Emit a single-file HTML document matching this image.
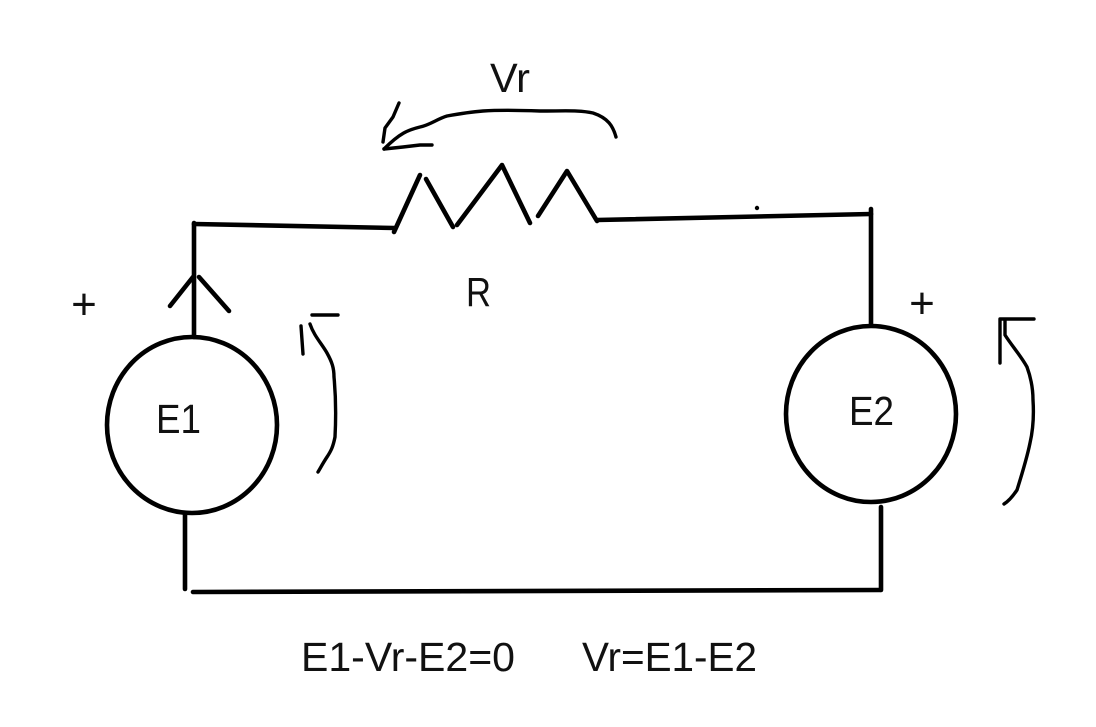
<!DOCTYPE html>
<html>
<head>
<meta charset="utf-8">
<style>
html,body{margin:0;padding:0;background:#fff;width:1096px;height:727px;overflow:hidden}
svg{display:block}
text{font-family:"Liberation Sans",sans-serif;fill:#111}
</style>
</head>
<body>
<svg width="1096" height="727" viewBox="0 0 1096 727" xmlns="http://www.w3.org/2000/svg">
<g fill="none" stroke="#000" stroke-width="4.6" stroke-linecap="round" stroke-linejoin="round">
  <!-- wires -->
  <path d="M194 224L394 228"/>
  <path d="M194 223V337"/>
  <path d="M597 220L871 214"/>
  <path d="M871 209V325"/>
  <path d="M185 514V589"/>
  <path d="M193 592L880 590"/>
  <path d="M881 507V590"/>
  <!-- arrow on E1 wire -->
  <path d="M170 306L193 277"/>
  <path d="M199 277L229 311"/>
  <!-- sources -->
  <ellipse cx="192" cy="425" rx="85" ry="88"/>
  <ellipse cx="871" cy="414" rx="85" ry="88"/>
  <!-- resistor -->
  <path d="M394 232L420 175"/>
  <path d="M426 179L453 227"/>
  <path d="M457 225L502 165L530 223"/>
  <path d="M538 216L567 171L597 221"/>
  <!-- Vr arrow -->
  <path stroke-width="3.4" d="M616 137C613 126 608 118 593 113C580 110 567 111 540 111C515 110 497 110 483 111C470 112 458 114 447 116C437 119 430 125 420 127C408 130 400 133 384 149"/>
  <path stroke-width="3.4" d="M399 103L393 117L385 128L383 142"/>
  <path stroke-width="3.4" d="M384 149L403 147L420 145L432 145"/>
  <!-- left voltage arrow -->
  <path stroke-width="3.4" d="M310 324C314 336 322 344 327 353C332 362 334 368 334 377C336 398 336 418 335 437C333 447 331 451 327 457C323 463 321 467 318 472"/>
  <path stroke-width="3.4" d="M301 326L303 354"/>
  <path stroke-width="3.4" d="M312 315L338 315"/>
  <!-- right voltage arrow -->
  <path stroke-width="3.4" d="M1005 320V335C1012 346 1021 356 1027 367C1031 378 1033 388 1033 400C1034 415 1033 430 1030 443C1027 458 1022 474 1017 490C1013 496 1009 501 1004 504"/>
  <path stroke-width="3.4" d="M1000 363V319H1034"/>
</g>
<circle cx="757" cy="208" r="2.2" fill="#000"/>
<text x="490" y="92" font-size="41" textLength="40" lengthAdjust="spacingAndGlyphs">Vr</text>
<text x="466" y="306" font-size="41" textLength="25" lengthAdjust="spacingAndGlyphs">R</text>
<text x="156" y="433" font-size="41" textLength="45" lengthAdjust="spacingAndGlyphs">E1</text>
<text x="849" y="425" font-size="41" textLength="45" lengthAdjust="spacingAndGlyphs">E2</text>
<text x="84" y="319" font-size="44" text-anchor="middle">+</text>
<text x="922" y="318" font-size="44" text-anchor="middle">+</text>
<text x="301" y="671" font-size="41" textLength="214" lengthAdjust="spacingAndGlyphs">E1-Vr-E2=0</text>
<text x="582" y="671" font-size="41" textLength="175" lengthAdjust="spacingAndGlyphs">Vr=E1-E2</text>
</svg>
</body>
</html>
